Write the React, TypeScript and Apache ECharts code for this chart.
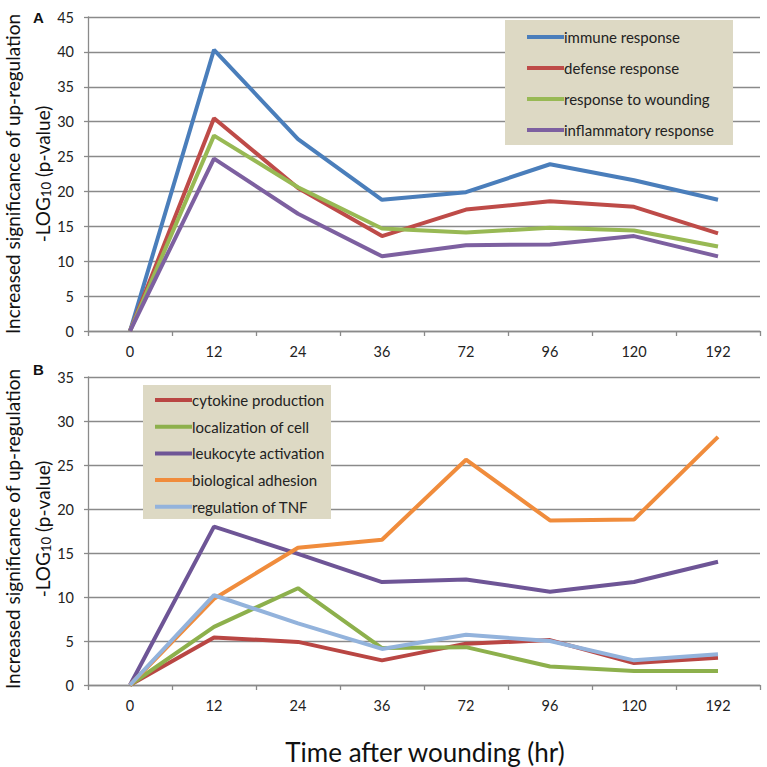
import React, { useEffect, useRef } from "react";
import * as echarts from "echarts";

const categories = ["0", "12", "24", "36", "72", "96", "120", "192"];

const namesA = ["immune response", "defense response", "response to wounding", "inflammatory response"];
const immune = [0, 40.3, 27.5, 18.8, 19.9, 23.9, 21.6, 18.8];
const defense = [0, 30.5, 20.5, 13.6, 17.4, 18.6, 17.8, 14.0];
const wounding = [0, 28.0, 20.6, 14.7, 14.1, 14.8, 14.4, 12.1];
const inflammatory = [0, 24.7, 16.8, 10.7, 12.3, 12.4, 13.6, 10.7];
const colorsA = ["#4A7EBB", "#BE4B48", "#98B954", "#7D60A0"];

const namesB = ["cytokine production", "localization of cell", "leukocyte activation", "biological adhesion", "regulation of TNF"];
const cytokine = [0, 5.4, 4.9, 2.8, 4.7, 5.1, 2.5, 3.1];
const localization = [0, 6.6, 11.0, 4.2, 4.3, 2.1, 1.6, 1.6];
const leukocyte = [0, 18.0, 14.9, 11.7, 12.0, 10.6, 11.7, 14.0];
const adhesion = [0, 9.8, 15.6, 16.5, 25.6, 18.7, 18.8, 28.2];
const tnf = [0, 10.2, 7.0, 4.1, 5.7, 5.0, 2.8, 3.5];
const colorsB = ["#B94643", "#8DB04C", "#6E5596", "#F08C3C", "#93B3DC"];

const FONT = "Lato";
const AXIS_COLOR = "#8a8a8a";

export default function App() {
  const ref = useRef<HTMLDivElement>(null);
  useEffect(() => {
    if (!ref.current) return;
    const chart = echarts.init(ref.current, null, { renderer: "svg" });
    const dataA = [immune, defense, wounding, inflammatory];
    const dataB = [cytokine, localization, leukocyte, adhesion, tnf];

    const xAxisBase = (gridIndex: number) => ({
      type: "category",
      gridIndex,
      data: categories,
      boundaryGap: true,
      axisLine: { lineStyle: { color: AXIS_COLOR, width: 1.3 } },
      axisTick: { show: true, length: 5, lineStyle: { color: AXIS_COLOR, width: 1.3 } },
      axisLabel: { fontFamily: FONT, fontSize: 14.5, color: "#222", margin: 13 },
    });
    const yAxisBase = (gridIndex: number, max: number) => ({
      type: "value",
      gridIndex,
      min: 0,
      max,
      interval: 5,
      axisLine: { show: true, lineStyle: { color: AXIS_COLOR, width: 1.3 } },
      axisTick: { show: true, length: 4, lineStyle: { color: AXIS_COLOR, width: 1.3 } },
      axisLabel: { fontFamily: FONT, fontSize: 14.5, color: "#222", margin: 14 },
      splitLine: { lineStyle: { color: AXIS_COLOR, width: 1.3 } },
    });

    const series: any[] = [];
    namesA.forEach((n, i) =>
      series.push({
        name: n,
        type: "line",
        xAxisIndex: 0,
        yAxisIndex: 0,
        data: dataA[i],
        symbol: "none",
        color: colorsA[i],
        lineStyle: { width: 4, color: colorsA[i] },
      })
    );
    namesB.forEach((n, i) =>
      series.push({
        name: n,
        type: "line",
        xAxisIndex: 1,
        yAxisIndex: 1,
        data: dataB[i],
        symbol: "none",
        color: colorsB[i],
        lineStyle: { width: 4, color: colorsB[i] },
      })
    );

    const yTitle = (cy: number) => ({
      type: "group",
      children: [
        {
          type: "text",
          x: 3,
          y: cy,
          rotation: Math.PI / 2,
          style: {
            text: "Increased significance of up-regulation",
            fontFamily: FONT,
            fontSize: 19,
            fill: "#111",
            align: "center",
            verticalAlign: "top",
          },
        },
        {
          type: "text",
          x: 29,
          y: cy,
          rotation: Math.PI / 2,
          style: {
            text: "{a|-LOG}{s|10}{a| (p-value)}",
            fontFamily: FONT,
            align: "center",
            verticalAlign: "top",
            rich: {
              a: { fontFamily: FONT, fontSize: 19, fill: "#111", lineHeight: 23, verticalAlign: "bottom" },
              s: { fontFamily: FONT, fontSize: 13, fill: "#111", lineHeight: 23, verticalAlign: "bottom", padding: [7, 0, 0, 0] },
            },
          },
        },
      ],
    });

    chart.setOption({
      animation: false,
      backgroundColor: "#fff",
      grid: [
        { left: 88, top: 17, width: 672, height: 314 },
        { left: 88, top: 377, width: 672, height: 308 },
      ],
      xAxis: [xAxisBase(0), xAxisBase(1)],
      yAxis: [yAxisBase(0, 45), yAxisBase(1, 35)],
      legend: [
        {
          data: namesA,
          orient: "vertical",
          left: 522,
          top: 23,
          icon: "rect",
          itemWidth: 37,
          itemHeight: 4,
          itemGap: 13,
          textStyle: { fontFamily: FONT, fontSize: 15, color: "#222", lineHeight: 18, padding: [0, 0, 0, -5] },
          z: 5,
        },
        {
          data: namesB,
          orient: "vertical",
          left: 150,
          top: 386,
          icon: "rect",
          itemWidth: 37,
          itemHeight: 4,
          itemGap: 8.7,
          textStyle: { fontFamily: FONT, fontSize: 15, color: "#222", lineHeight: 18, padding: [0, 0, 0, -5] },
          z: 5,
        },
      ],
      graphic: [
        { type: "rect", shape: { x: 505, y: 20, width: 228, height: 125 }, style: { fill: "#DDD9C4" }, z: 3 },
        { type: "rect", shape: { x: 143, y: 385, width: 188, height: 134 }, style: { fill: "#DDD9C4" }, z: 3 },
        { type: "text", x: 33, y: 10, style: { text: "A", fontFamily: "Liberation Sans", fontWeight: "bold", fontSize: 15, fill: "#111" } },
        { type: "text", x: 33, y: 362, style: { text: "B", fontFamily: "Liberation Sans", fontWeight: "bold", fontSize: 15, fill: "#111" } },
        yTitle(174),
        yTitle(529),
        {
          type: "text",
          x: 425,
          y: 752,
          style: {
            text: "Time after wounding (hr)",
            fontFamily: FONT,
            fontSize: 26,
            fill: "#111",
            align: "center",
            verticalAlign: "middle",
          },
        },
      ],
      series,
    });
    return () => chart.dispose();
  }, []);
  return <div ref={ref} style={{ position: "absolute", left: 0, top: 0, width: 767, height: 767 }} />;
}
